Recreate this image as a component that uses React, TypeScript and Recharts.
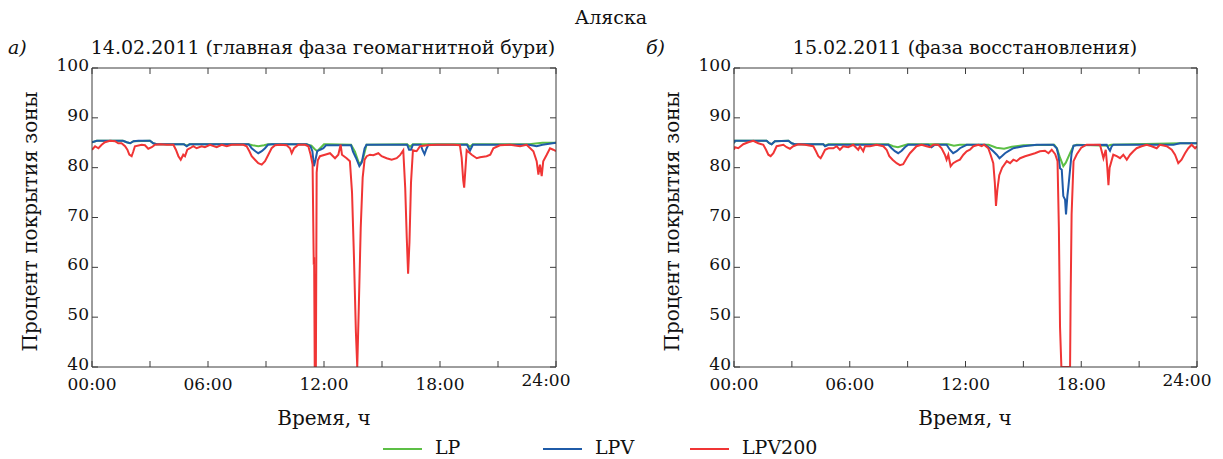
import React from 'react';
import { LineChart, Line, XAxis, YAxis } from 'recharts';

const FONT = '"DejaVu Serif", serif';
const AXIS = '#3c3c3c';
const C_LP = '#5cbf45';
const C_LPV = '#1f5ba8';
const C_LPV200 = '#f03535';

const HOUR_TICKS = [0, 3, 6, 9, 12, 15, 18, 21, 24];
const HOUR_LABELS: Record<number, string> = { 0: '00:00', 6: '06:00', 12: '12:00', 18: '18:00', 24: '24:00' };
const PCT_TICKS = [40, 50, 60, 70, 80, 90, 100];

// [hour, percent] readings, 14.02.2011
const A_LP = [[0,85.1],[0.25,85.4],[1.6,85.4],[1.8,85.1],[1.97,84.9],[2.15,85.3],[3.0,85.4],[3.17,84.9],[3.35,84.7],[4.75,84.7],[4.9,84.4],[5.05,84.7],[8.1,84.7],[8.3,84.5],[8.6,84.3],[8.9,84.5],[9.1,84.7],[11.1,84.7],[11.35,84.4],[11.5,83.8],[11.65,83.3],[11.8,83.9],[12.0,84.7],[12.2,84.7],[13.4,84.6],[13.6,83.2],[13.83,80.6],[14.0,81.5],[14.2,84.6],[16.3,84.7],[16.45,84.2],[16.6,84.7],[19.4,84.7],[19.55,84.2],[19.7,84.7],[22.6,84.7],[23.3,85.0],[24,85.0]];
const A_LPV = [[0,85.1],[0.25,85.4],[1.6,85.4],[1.8,85.1],[1.97,84.9],[2.15,85.3],[2.4,85.4],[3.0,85.4],[3.17,84.9],[3.35,84.7],[4.75,84.7],[4.9,84.3],[5.05,84.7],[8.1,84.7],[8.26,83.9],[8.45,83.3],[8.6,82.9],[8.78,83.3],[8.95,83.9],[9.1,84.6],[9.3,84.7],[11.1,84.7],[11.3,84.3],[11.4,83.3],[11.48,80.3],[11.56,81.6],[11.65,83.3],[11.8,83.6],[11.97,83.9],[12.1,84.5],[13.4,84.5],[13.5,83.2],[13.65,82.0],[13.83,80.3],[13.95,81.0],[14.1,83.9],[14.2,84.6],[16.3,84.6],[16.4,83.6],[16.5,83.6],[16.6,84.6],[17.0,84.6],[17.1,83.5],[17.2,82.7],[17.3,83.8],[17.4,84.6],[19.4,84.6],[19.55,83.4],[19.7,84.6],[22.6,84.6],[23.0,84.3],[23.3,84.6],[24,85.0]];
const A_LPV200 = [[0,83.6],[0.16,84.3],[0.33,83.9],[0.5,84.6],[0.67,85.1],[0.93,85.4],[1.19,85.3],[1.36,84.9],[1.53,84.9],[1.71,84.3],[1.83,83.6],[1.93,82.6],[2.05,82.3],[2.14,83.3],[2.22,84.3],[2.57,84.6],[2.74,84.5],[2.91,83.8],[3.09,84.1],[3.26,84.6],[3.52,84.7],[3.86,84.6],[4.21,84.6],[4.34,83.6],[4.47,82.3],[4.59,81.6],[4.72,82.6],[4.81,82.3],[4.93,83.6],[5.07,83.9],[5.24,84.3],[5.41,83.9],[5.67,84.3],[5.84,84.1],[6.1,84.6],[6.45,84.1],[6.71,84.6],[6.97,84.3],[7.22,84.6],[7.83,84.6],[8.0,84.3],[8.14,83.3],[8.26,82.3],[8.43,81.6],[8.6,80.9],[8.78,80.6],[8.95,81.3],[9.12,82.6],[9.29,83.9],[9.47,84.5],[9.72,84.6],[10.07,84.5],[10.24,83.9],[10.33,82.9],[10.45,83.9],[10.67,84.6],[11.02,84.6],[11.19,84.3],[11.31,82.6],[11.41,80.6],[11.47,60.5],[11.49,62],[11.52,40],[11.58,40],[11.62,79],[11.68,81.5],[11.79,82.3],[12.05,82.6],[12.31,82.9],[12.57,81.9],[12.74,82.6],[12.86,84.6],[12.93,82.6],[13.17,81.9],[13.34,81.3],[13.45,75],[13.55,62],[13.65,47],[13.72,40],[13.8,52],[13.9,68],[14.0,78],[14.1,81.6],[14.21,82.3],[14.38,82.6],[14.55,82.5],[14.81,82.9],[14.98,82.3],[15.24,81.9],[15.5,81.6],[15.76,81.9],[15.93,82.5],[16.1,83.5],[16.2,76],[16.28,66],[16.35,58.7],[16.42,65],[16.5,77],[16.6,83.5],[16.79,83.3],[16.97,84.3],[17.31,84.5],[17.83,84.6],[18.69,84.6],[19.03,84.5],[19.12,82],[19.2,77.5],[19.25,76],[19.32,80],[19.38,83.5],[19.64,82.6],[19.9,81.9],[20.07,82.1],[20.41,82.3],[20.6,82.6],[20.76,83.9],[21.1,84.5],[21.62,84.6],[22.14,84.3],[22.48,84.6],[22.83,83.3],[23.0,81.3],[23.09,78.6],[23.17,80.6],[23.26,78.3],[23.34,81.3],[23.52,82.6],[23.69,83.9],[23.86,83.6],[24,83.3]];

// [hour, percent] readings, 15.02.2011
const B_LP = [[0,84.9],[0.05,85.4],[1.69,85.4],[1.83,84.9],[1.95,84.7],[2.12,85.3],[2.82,85.4],[2.99,84.9],[3.16,84.7],[4.63,84.7],[4.72,84.4],[4.89,84.7],[8.0,84.7],[8.25,84.3],[8.5,84.1],[8.75,84.4],[9.0,84.7],[11.1,84.7],[11.4,84.4],[11.7,84.6],[13.2,84.6],[13.6,84.0],[14.0,83.8],[14.4,84.2],[15.0,84.5],[16.6,84.6],[16.75,83.8],[16.9,82.0],[17.07,80.3],[17.2,81.0],[17.42,82.9],[17.6,84.4],[17.76,84.6],[19.4,84.4],[19.55,84.6],[23.12,84.9],[24,84.9]];
const B_LPV = [[0,84.9],[0.05,85.4],[1.69,85.4],[1.83,84.9],[1.95,84.7],[2.12,85.3],[2.82,85.4],[2.99,84.9],[3.16,84.7],[4.63,84.7],[4.72,84.3],[4.89,84.6],[8.0,84.6],[8.17,83.9],[8.34,83.3],[8.51,82.9],[8.69,83.4],[8.86,84.1],[9.03,84.6],[10.07,84.6],[10.24,84.1],[10.41,84.6],[11.02,84.6],[11.19,83.6],[11.36,82.9],[11.54,83.3],[11.71,83.9],[12.06,84.6],[13.01,84.6],[13.27,83.9],[13.44,83.3],[13.62,82.6],[13.76,81.9],[13.88,82.3],[14.05,82.9],[14.22,83.3],[14.48,83.9],[14.74,84.1],[15.0,84.3],[15.69,84.6],[16.55,84.6],[16.73,83.9],[16.81,82.6],[16.9,79.9],[16.99,79.6],[17.07,74.3],[17.16,73.6],[17.21,70.6],[17.28,74.3],[17.33,76],[17.42,79.6],[17.5,82.9],[17.6,84.4],[17.76,84.5],[19.32,84.6],[19.41,83.9],[19.49,83.4],[19.58,84.3],[19.66,84.6],[22.78,84.6],[23.12,84.9],[24,84.9]];
const B_LPV200 = [[0,83.6],[0.05,84.1],[0.22,83.9],[0.48,84.7],[0.74,85.1],[1.0,85.4],[1.26,84.9],[1.52,84.6],[1.66,83.6],[1.78,82.6],[1.9,82.3],[2.04,82.9],[2.21,84.3],[2.56,84.6],[2.73,84.1],[2.9,83.8],[3.07,84.3],[3.33,84.7],[3.68,84.6],[4.11,84.3],[4.25,83.3],[4.37,82.3],[4.49,81.9],[4.59,82.6],[4.72,83.6],[4.89,83.9],[5.15,83.9],[5.32,84.3],[5.49,83.6],[5.66,84.3],[5.92,84.1],[6.18,84.6],[6.44,83.6],[6.53,84.3],[6.7,83.3],[6.79,84.3],[7.05,84.3],[7.39,84.6],[7.74,84.3],[7.91,83.6],[8.05,82.3],[8.22,81.6],[8.43,80.9],[8.6,80.5],[8.77,80.7],[8.95,81.9],[9.12,82.9],[9.29,83.6],[9.46,84.3],[9.72,84.6],[9.98,84.3],[10.16,84.1],[10.33,84.6],[10.59,84.6],[10.76,83.9],[10.93,82.6],[11.02,81.6],[11.11,82.6],[11.23,80.3],[11.36,80.9],[11.54,81.3],[11.71,81.6],[11.89,82.6],[12.06,83.3],[12.23,83.6],[12.41,84.3],[12.67,84.6],[12.84,84.3],[12.96,84.6],[13.18,83.9],[13.3,82.6],[13.44,80.9],[13.52,77],[13.58,72.3],[13.65,75.5],[13.75,78.5],[13.9,80.0],[14.14,81.3],[14.31,80.9],[14.48,81.6],[14.65,81.3],[14.83,81.9],[15.09,82.3],[15.35,82.6],[15.6,82.9],[15.86,83.3],[16.12,83.4],[16.3,82.9],[16.47,83.6],[16.65,82.7],[16.77,81.3],[16.84,68],[16.9,48],[16.97,40],[17.42,40],[17.45,54],[17.5,70.6],[17.6,81.3],[17.77,82.7],[18.0,84.0],[18.28,84.6],[18.97,84.6],[19.06,83.3],[19.15,81.9],[19.27,83.6],[19.35,80],[19.41,76.5],[19.47,80],[19.66,82.6],[19.84,82.3],[20.01,81.9],[20.18,82.6],[20.36,81.6],[20.53,82.6],[20.7,83.3],[20.87,83.9],[21.13,84.3],[21.39,84.6],[21.65,84.3],[21.91,83.9],[22.08,84.6],[22.43,84.3],[22.69,83.6],[22.86,82.6],[23.03,80.9],[23.2,81.6],[23.38,82.9],[23.55,83.9],[23.72,84.6],[23.9,83.9],[24,84.3]];

const toPoints = (rows: number[][]) => rows.map(([t, v]) => ({ t, v }));

const PLOT_TOP = 68;
const PLOT_BOTTOM = 367;
const H = 459;
const TICK_LEN = 6;

const textStyle = { fontFamily: FONT, fontSize: 17, fill: '#111' };
const bigText = { ...textStyle, fontSize: 19 };

function BottomTick(props: any) {
  const { x, payload } = props;
  const label = HOUR_LABELS[payload.value];
  const last = payload.value === 24;
  return (
    <g>
      <line x1={x} x2={x} y1={PLOT_BOTTOM} y2={PLOT_BOTTOM - TICK_LEN} stroke={AXIS} />
      {label && (
        <text x={x + (last ? -10 : 0)} y={PLOT_BOTTOM + (last ? 19 : 23)} textAnchor="middle" style={textStyle}>
          {label}
        </text>
      )}
    </g>
  );
}

function TopTick(props: any) {
  const { x } = props;
  return <line x1={x} x2={x} y1={PLOT_TOP} y2={PLOT_TOP + TICK_LEN} stroke={AXIS} />;
}

function LeftTick(props: any) {
  const { y, payload, plotLeft } = props;
  return (
    <g>
      <line x1={plotLeft} x2={plotLeft + TICK_LEN} y1={y} y2={y} stroke={AXIS} />
      <text x={plotLeft - 3} y={y + 3} textAnchor="end" style={textStyle}>
        {payload.value}
      </text>
    </g>
  );
}

function RightTick(props: any) {
  const { y, plotRight } = props;
  return <line x1={plotRight} x2={plotRight - TICK_LEN} y1={y} y2={y} stroke={AXIS} />;
}

function Panel({ left, width, plotLeft, plotRight, lp, lpv, lpv200 }: any) {
  return (
    <div style={{ position: 'absolute', left, top: 0, width, height: H }}>
      <LineChart
        width={width}
        height={H}
        margin={{ top: PLOT_TOP - 1, right: width - plotRight - 1, bottom: H - PLOT_BOTTOM - 1, left: plotLeft - 1 }}
      >
        <XAxis xAxisId="b" type="number" dataKey="t" domain={[0, 24]} ticks={HOUR_TICKS} interval={0}
          height={1} tickSize={0} tickMargin={0} axisLine={{ stroke: AXIS }} tickLine={false}
          tick={(p: any) => <BottomTick {...p} />} allowDataOverflow />
        <XAxis xAxisId="t" orientation="top" type="number" dataKey="t" domain={[0, 24]} ticks={HOUR_TICKS} interval={0}
          height={1} tickSize={0} tickMargin={0} axisLine={{ stroke: AXIS }} tickLine={false}
          tick={(p: any) => <TopTick {...p} />} allowDataOverflow />
        <YAxis yAxisId="l" type="number" domain={[40, 100]} ticks={PCT_TICKS} interval={0}
          width={1} tickSize={0} tickMargin={0} axisLine={{ stroke: AXIS }} tickLine={false}
          tick={(p: any) => <LeftTick {...p} plotLeft={plotLeft} />} allowDataOverflow />
        <YAxis yAxisId="r" orientation="right" type="number" domain={[40, 100]} ticks={PCT_TICKS} interval={0}
          width={1} tickSize={0} tickMargin={0} axisLine={{ stroke: AXIS }} tickLine={false}
          tick={(p: any) => <RightTick {...p} plotRight={plotRight} />} allowDataOverflow />
        <Line xAxisId="b" yAxisId="l" data={toPoints(lp)} dataKey="v" stroke={C_LP} strokeWidth={2}
          dot={false} isAnimationActive={false} type="linear" />
        <Line xAxisId="b" yAxisId="l" data={toPoints(lpv)} dataKey="v" stroke={C_LPV} strokeWidth={2}
          dot={false} isAnimationActive={false} type="linear" />
        <Line xAxisId="b" yAxisId="l" data={toPoints(lpv200)} dataKey="v" stroke={C_LPV200} strokeWidth={2}
          dot={false} isAnimationActive={false} type="linear" />
      </LineChart>
    </div>
  );
}

const LEGEND = [
  { name: 'LP', color: C_LP, x: 383 },
  { name: 'LPV', color: C_LPV, x: 543 },
  { name: 'LPV200', color: C_LPV200, x: 690 },
];

export default function App() {
  const yMid = (PLOT_TOP + PLOT_BOTTOM) / 2 + 4;
  return (
    <div style={{ position: 'absolute', left: 0, top: 0, width: 1223, height: H, background: '#fff', overflow: 'hidden' }}>
      <Panel left={0} width={611} plotLeft={92} plotRight={556} lp={A_LP} lpv={A_LPV} lpv200={A_LPV200} />
      <Panel left={611} width={612} plotLeft={123} plotRight={586} lp={B_LP} lpv={B_LPV} lpv200={B_LPV200} />
      <svg width={1223} height={H} style={{ position: 'absolute', left: 0, top: 0, pointerEvents: 'none' }}>
        <text x={611} y={24} textAnchor="middle" style={bigText}>Аляска</text>
        <text x={8} y={54} style={{ ...bigText, fontStyle: 'italic' }}>а)</text>
        <text x={323} y={54} textAnchor="middle" style={bigText}>14.02.2011 (главная фаза геомагнитной бури)</text>
        <text x={646} y={54} style={{ ...bigText, fontStyle: 'italic' }}>б)</text>
        <text x={965} y={54} textAnchor="middle" style={bigText}>15.02.2011 (фаза восстановления)</text>
        <text transform={`translate(37, ${yMid}) rotate(-90)`} textAnchor="middle" style={{ ...textStyle, fontSize: 20 }}>
          Процент покрытия зоны
        </text>
        <text transform={`translate(679, ${yMid}) rotate(-90)`} textAnchor="middle" style={{ ...textStyle, fontSize: 20 }}>
          Процент покрытия зоны
        </text>
        <text x={324} y={425} textAnchor="middle" style={{ ...textStyle, fontSize: 20 }}>Время, ч</text>
        <text x={965} y={425} textAnchor="middle" style={{ ...textStyle, fontSize: 20 }}>Время, ч</text>
        {LEGEND.map((l) => (
          <g key={l.name}>
            <line x1={l.x} x2={l.x + 39} y1={449} y2={449} stroke={l.color} strokeWidth={2} />
            <text x={l.x + 52} y={454} style={{ ...textStyle, fontSize: 19 }}>{l.name}</text>
          </g>
        ))}
      </svg>
    </div>
  );
}
